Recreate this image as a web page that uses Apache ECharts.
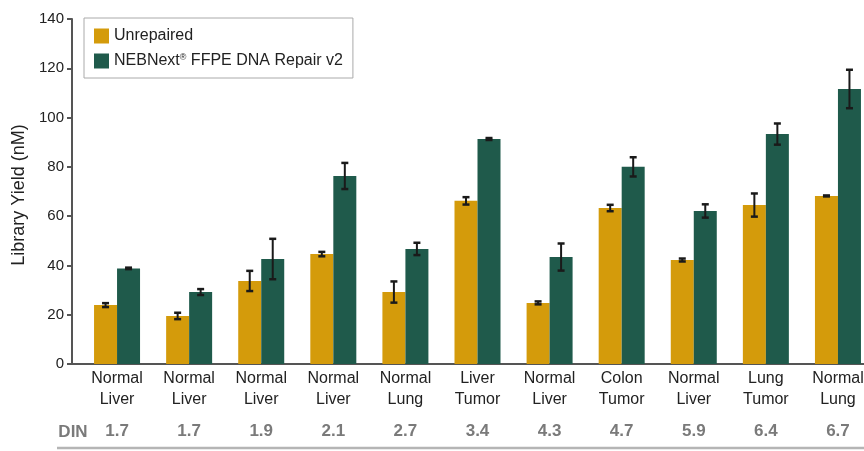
<!DOCTYPE html>
<html>
<head>
<meta charset="utf-8">
<script src="https://cdn.jsdelivr.net/npm/echarts@6/dist/echarts.min.js"></script>
<style>
html,body{margin:0;padding:0;background:#fff;}
#chart{width:864px;height:451px;}
</style>
</head>
<body>
<div id="chart"></div>
<script>
const categories = ['Normal\nLiver', 'Normal\nLiver', 'Normal\nLiver', 'Normal\nLiver', 'Normal\nLung', 'Liver\nTumor', 'Normal\nLiver', 'Colon\nTumor', 'Normal\nLiver', 'Lung\nTumor', 'Normal\nLung'];
const dinValues = ['1.7', '1.7', '1.9', '2.1', '2.7', '3.4', '4.3', '4.7', '5.9', '6.4', '6.7'];
const unrepaired = [23.9, 19.5, 33.7, 44.6, 29.2, 66.2, 24.8, 63.3, 42.2, 64.5, 68.2];
const unrepairedErr = [0.8, 1.3, 4.1, 0.9, 4.3, 1.5, 0.6, 1.3, 0.6, 4.7, 0.2];
const repaired = [38.8, 29.2, 42.6, 76.3, 46.7, 91.3, 43.4, 80.0, 62.1, 93.3, 111.6];
const repairedErr = [0.3, 1.2, 8.2, 5.3, 2.5, 0.4, 5.5, 3.9, 2.7, 4.3, 7.8];
const yTicks = { min: 0, max: 140, interval: 20 };
const seriesNames = ['Unrepaired', 'NEBNext® FFPE DNA Repair v2'];

const FONT = 'Liberation Sans, Arial, Helvetica, sans-serif';
const YELLOW = '#D49B0B';
const GREEN = '#1F5A4B';
const BAR_W = 23;

function errData(vals, errs) {
  return vals.map((v, i) => [i, v - errs[i], v + errs[i]]);
}
function errRender(shift) {
  return function (params, api) {
    const i = api.value(0);
    const lo = api.coord([i, api.value(1)]);
    const hi = api.coord([i, api.value(2)]);
    const x = lo[0] + shift;
    const cap = 3.5;
    const style = { stroke: '#1a1a1a', lineWidth: 2 };
    return {
      type: 'group',
      children: [
        { type: 'line', shape: { x1: x, y1: lo[1], x2: x, y2: hi[1] }, style },
        { type: 'line', shape: { x1: x - cap, y1: lo[1], x2: x + cap, y2: lo[1] }, style: { stroke: '#1a1a1a', lineWidth: 2.5 } },
        { type: 'line', shape: { x1: x - cap, y1: hi[1], x2: x + cap, y2: hi[1] }, style: { stroke: '#1a1a1a', lineWidth: 2.5 } }
      ]
    };
  };
}

const chart = echarts.init(document.getElementById('chart'), null, { renderer: 'canvas' });
chart.setOption({
  animation: false,
  backgroundColor: '#fff',
  textStyle: { fontFamily: FONT },
  grid: { left: 81, top: 19, width: 793, height: 345, containLabel: false, outerBoundsMode: 'none' },
  legend: {
    data: seriesNames,
    orient: 'vertical',
    left: 84,
    top: 18,
    padding: [10, 10, 9, 10],
    itemGap: 9,
    itemWidth: 15,
    itemHeight: 15,
    icon: 'rect',
    borderColor: '#aaaaaa',
    borderWidth: 1,
    itemStyle: { borderWidth: 0 },
    selectedMode: false,
    formatter: function (name) {
      return name.replace('®', '{s|®}');
    },
    textStyle: {
      fontFamily: FONT,
      fontSize: 16,
      color: '#222',
      lineHeight: 15,
      rich: {
        s: { fontSize: 9, verticalAlign: 'top', lineHeight: 10, color: '#222', fontFamily: FONT }
      }
    }
  },
  xAxis: [
    {
      type: 'category',
      data: categories,
      axisLine: { show: true, lineStyle: { color: '#555', width: 2 } },
      axisTick: { show: false },
      axisLabel: { interval: 0, fontSize: 16, lineHeight: 21, color: '#222', margin: 4, fontFamily: FONT, hideOverlap: false }
    },
    {
      type: 'category',
      data: dinValues,
      position: 'bottom',
      axisLine: { show: false },
      axisTick: { show: false },
      axisLabel: { interval: 0, fontSize: 17, fontWeight: 'bold', lineHeight: 17, color: '#7a7a7a', margin: 59, fontFamily: FONT, hideOverlap: false }
    }
  ],
  yAxis: {
    type: 'value',
    min: yTicks.min,
    max: yTicks.max,
    interval: yTicks.interval,
    offset: 9,
    name: 'Library Yield (nM)',
    nameLocation: 'middle',
    nameGap: 34,
    nameTextStyle: { fontSize: 18, color: '#222', fontFamily: FONT, padding: [0, 7, 0, 0] },
    axisLine: { show: true, lineStyle: { color: '#555', width: 2 } },
    axisTick: { show: true, length: 5, inside: false, lineStyle: { color: '#555', width: 2 } },
    axisLabel: { fontSize: 15, color: '#222', margin: 8, fontFamily: FONT },
    splitLine: { show: false }
  },
  graphic: [
    { type: 'line', shape: { x1: 71, y1: 364, x2: 82, y2: 364 }, style: { stroke: '#555', lineWidth: 2 }, silent: true },
    { type: 'line', shape: { x1: 57, y1: 448, x2: 864, y2: 448 }, style: { stroke: '#b5b5b5', lineWidth: 2.5 }, silent: true },
    { type: 'text', x: 73, y: 432, style: { text: 'DIN', font: 'bold 17px ' + FONT, fill: '#7a7a7a', textAlign: 'center', textVerticalAlign: 'middle' }, silent: true }
  ],
  series: [
    { name: seriesNames[0], type: 'bar', data: unrepaired, barWidth: BAR_W, barGap: '0%', itemStyle: { color: YELLOW } },
    { name: seriesNames[1], type: 'bar', data: repaired, barWidth: BAR_W, barGap: '0%', itemStyle: { color: GREEN } },
    { type: 'custom', renderItem: errRender(-BAR_W / 2), data: errData(unrepaired, unrepairedErr), encode: { x: 0, y: [1, 2] }, z: 10, silent: true },
    { type: 'custom', renderItem: errRender(BAR_W / 2), data: errData(repaired, repairedErr), encode: { x: 0, y: [1, 2] }, z: 10, silent: true }
  ]
});
</script>
</body>
</html>
